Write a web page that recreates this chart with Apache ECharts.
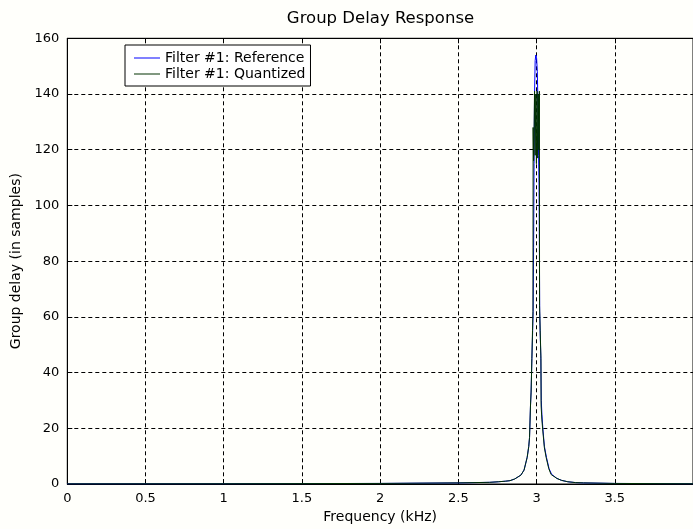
<!DOCTYPE html>
<html>
<head>
<meta charset="utf-8">
<script src="https://cdn.jsdelivr.net/npm/echarts@6/dist/echarts.min.js"></script>
<style>
html,body{margin:0;padding:0;background:#fffffb;}
#chart{width:693px;height:529px;}
</style>
</head>
<body>
<div id="chart"></div>
<script>
const chartTitle = 'Group Delay Response';
const seriesNames = ['Filter #1: Reference', 'Filter #1: Quantized'];
const xTicks = [0, 0.5, 1, 1.5, 2, 2.5, 3, 3.5];
const yTicks = [0, 20, 40, 60, 80, 100, 120, 140, 160];

const freqRef = [0, 1.0, 2.0, 2.5, 2.7, 2.755, 2.8, 2.83, 2.86, 2.9, 2.92, 2.94, 2.95, 2.955, 2.961, 2.965, 2.97, 2.975, 2.978, 2.981, 2.984, 2.987, 2.991, 2.995, 3.0, 3.005, 3.009, 3.013, 3.016, 3.018, 3.02, 3.024, 3.027, 3.03, 3.034, 3.04, 3.05, 3.063, 3.08, 3.096, 3.13, 3.16, 3.2, 3.25, 3.3, 3.5, 4.0];
const delayRef = [0.05, 0.1, 0.2, 0.4, 0.6, 0.8, 1.0, 1.2, 1.8, 3.2, 5.0, 9.6, 13.5, 16.7, 28, 33, 45, 55, 62, 85, 115, 140, 152, 154, 153, 148, 135, 118, 107, 84, 62, 52, 46, 30, 25, 20, 13.5, 9.6, 5.5, 3.5, 2.0, 1.3, 0.8, 0.5, 0.4, 0.2, 0.1];

const freqQuant = [0, 1.0, 2.0, 2.5, 2.7, 2.755, 2.8, 2.83, 2.86, 2.9, 2.92, 2.94, 2.95, 2.955, 2.958, 2.961, 2.965, 2.97, 2.974, 2.977, 2.978, 2.981, 2.984, 2.987, 2.991, 2.995, 2.999, 3.003, 3.007, 3.011, 3.015, 3.018, 3.019, 3.023, 3.028, 3.029, 3.034, 3.04, 3.05, 3.061, 3.078, 3.093, 3.13, 3.16, 3.2, 3.25, 3.3, 3.5, 4.0];
const delayQuant = [0.05, 0.1, 0.2, 0.4, 0.6, 0.8, 1.0, 1.2, 1.8, 3.2, 5.0, 9.6, 13.5, 16.7, 17, 28, 33, 45, 55, 62, 128, 116, 127, 141, 118, 140, 115, 141, 117, 140, 120, 141, 64, 55, 45, 28, 23, 19, 13, 9.6, 5.5, 3.4, 2.0, 1.3, 0.8, 0.5, 0.4, 0.2, 0.1];

const FONT = 'DejaVu Sans';
const zip = (xs, ys) => xs.map((x, i) => [x, ys[i]]);
const lineIcon = 'path://M0,0 L26,0 L26,1 L0,1 Z';

const chart = echarts.init(document.getElementById('chart'), null, {renderer: 'canvas'});

const gridLine = {show: true, lineStyle: {color: '#000', width: 1, type: [4, 3]}};

chart.setOption({
  backgroundColor: '#fffffb',
  animation: false,
  graphic: [{
    type: 'text', x: 380.5, y: 10, z: 10,
    style: {text: chartTitle, textAlign: 'center', textVerticalAlign: 'top',
            font: '16.5px "DejaVu Sans"', fill: '#000'}
  }],
  legend: {
    left: 125, top: 45, orient: 'vertical',
    padding: [6, 5, 5, 9],
    itemWidth: 26, itemHeight: 14, itemGap: 2,
    icon: lineIcon, symbolKeepAspect: true,
    backgroundColor: '#ffffff', borderColor: '#000', borderWidth: 1, borderRadius: 0,
    textStyle: {color: '#000', fontFamily: FONT, fontSize: 14},
    data: seriesNames
  },
  grid: {left: 67.3, top: 38.3, width: 630.4, height: 447.4, show: true, borderColor: '#000', borderWidth: 1, backgroundColor: 'transparent'},
  xAxis: [{
    type: 'value', min: 0, max: 4, interval: 0.5, position: 'bottom',
    name: 'Frequency (kHz)', nameLocation: 'middle', nameGap: 26,
    nameTextStyle: {color: '#000', fontFamily: FONT, fontSize: 14},
    axisLine: {show: true, onZero: false, lineStyle: {color: '#000', width: 1}},
    axisTick: {show: true, inside: true, length: 5, lineStyle: {color: '#000'}},
    axisLabel: {color: '#000', fontFamily: FONT, fontSize: 13, margin: 8, showMaxLabel: false,
      formatter: v => xTicks.indexOf(v) >= 0 ? String(v) : ''},
    splitLine: gridLine
  }, {
    type: 'value', min: 0, max: 4, interval: 0.5, position: 'top',
    axisLine: {show: true, onZero: false, lineStyle: {color: '#000', width: 1}},
    axisTick: {show: true, inside: true, length: 5, lineStyle: {color: '#000'}},
    axisLabel: {show: false}, splitLine: {show: false}
  }],
  yAxis: [{
    type: 'value', min: 0, max: 160, interval: 20,
    name: 'Group delay (in samples)', nameLocation: 'middle', nameGap: 44,
    nameTextStyle: {color: '#000', fontFamily: FONT, fontSize: 14},
    axisLine: {show: true, onZero: false, lineStyle: {color: '#000', width: 1}},
    axisTick: {show: true, inside: true, length: 5, lineStyle: {color: '#000'}},
    axisLabel: {color: '#000', fontFamily: FONT, fontSize: 13, margin: 8,
      formatter: v => yTicks.indexOf(v) >= 0 ? String(v) : ''},
    splitLine: gridLine
  }],
  series: [{
    name: seriesNames[0], type: 'line', data: zip(freqRef, delayRef),
    symbol: 'none', clip: true,
    lineStyle: {color: '#0000ff', width: 1}, itemStyle: {color: '#0000ff'}
  }, {
    name: seriesNames[1], type: 'line', data: zip(freqQuant, delayQuant),
    symbol: 'none', clip: true,
    lineStyle: {color: '#003000', width: 1}, itemStyle: {color: '#003000'}
  }]
});
</script>
</body>
</html>
